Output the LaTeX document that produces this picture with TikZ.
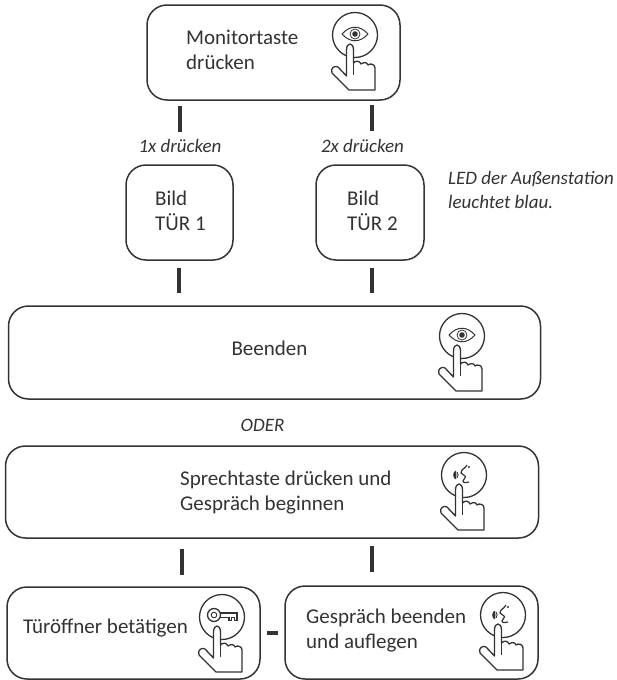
\documentclass[tikz,border=0pt]{standalone}
\usepackage{fontspec}
\setmainfont{Carlito}
\definecolor{dunkel}{gray}{0.2}
\tikzset{
    kasten/.style={draw=dunkel, line width=1.5pt, rounded corners=20pt},
    schrift/.style={font=\fontsize{21}{25}\selectfont, align=left, anchor=west, text=dunkel, inner sep=0pt},
    hinweis/.style={font=\fontsize{19}{24}\itshape\selectfont, align=left, text=dunkel, inner sep=0pt},
    strich/.style={dunkel, line width=3.6pt},
    handpic/.pic={
        \draw [dunkel, line width=1.3pt] (0, 0) circle [radius=22.5];
        \draw [dunkel, line width=1.3pt, fill=white, line join=round]
            (-8.5, 15) .. controls (-8.5, 7) and (-1.5, 7) .. (-1.5, 15)
            -- (-1.5, 28) .. controls (1, 25) and (5, 26) .. (6, 29)
            .. controls (9, 27) and (12, 27) .. (13, 30)
            .. controls (15, 28) and (20, 29) .. (20, 33)
            -- (20, 55) -- (-6, 55) -- (-23, 38)
            .. controls (-25, 33) and (-20, 30) .. (-17, 32)
            -- (-8.5, 41) -- cycle;
        \draw [dunkel, line width=1pt] (-1.5, 28) -- (-1.5, 40);
    },
    augepic/.pic={
        \draw [dunkel, line width=1pt, line join=miter] (-13, -1) .. controls (-5, -10) and (5, -10) .. (13, -1)
            .. controls (5, 8) and (-5, 8) .. (-13, -1) -- cycle;
        \draw [dunkel, line width=0.8pt] (0, -1) circle [radius=5];
        \fill [dunkel] (0, -1) circle [radius=2.8];
    },
    sprechpic/.pic={
        \draw [dunkel, line width=1.2pt] (3, -10) .. controls (1, -6) and (-3, -6) .. (-3, -2)
            -- (1, 1) .. controls (3, 2) and (-1, 4) .. (-1, 6) .. controls (-1, 8) and (3, 8) .. (5, 7);
        \fill [dunkel] (5, -8) circle [radius=1.1];
        \draw [dunkel, line width=0.9pt] (-8, -4) .. controls (-11, -2) and (-11, 2) .. (-8, 4);
        \fill [dunkel] (-9, 0) ellipse [x radius=1.5, y radius=3.5];
        \draw [dunkel, line width=0.9pt] (-7, -3) .. controls (-5.5, -1) and (-5.5, 1) .. (-7, 3);
    },
    schluesselpic/.pic={
        \draw [dunkel, line width=1.3pt] (-8, -2) circle [radius=6.5];
        \draw [dunkel, line width=0.9pt] (-8, -2) circle [radius=2.8];
        \draw [dunkel, line width=1.2pt] (-1.7, -4) -- (15, -4) -- (15, 3.5) -- (12.5, 3.5) -- (12.5, 0.5)
            -- (9.5, 0.5) -- (9.5, 3.5) -- (7, 3.5) -- (7, 0.5) -- (-1.7, 0.5);
    },
}

\begin{document}
\begin{tikzpicture}[x=1pt, y=-1pt]
    \useasboundingbox (0, 0) rectangle (617, 680);

    % Kaesten
    \node [kasten, minimum width=253pt, minimum height=95pt] (monitor) at (273.5, 52.5) {};
    \node [kasten, minimum width=107pt, minimum height=95pt] (tuer1) at (179.5, 212.5) {};
    \node [kasten, minimum width=108pt, minimum height=95pt] (tuer2) at (370, 212.5) {};
    \node [kasten, minimum width=532pt, minimum height=93pt] (beenden) at (274.5, 352.5) {};
    \node [kasten, minimum width=533pt, minimum height=92pt] (sprechen) at (272, 492) {};
    \node [kasten, minimum width=253pt, minimum height=92pt] (oeffner) at (133.5, 633) {};
    \node [kasten, minimum width=253pt, minimum height=93pt] (auflegen) at (411.5, 632.5) {};

    % Texte
    \node [schrift] (monitortext) at (186, 49.5) {Monitortaste\\drücken};
    \node [schrift] (tuer1text) at (155, 210.5) {Bild\\TÜR 1};
    \node [schrift] (tuer2text) at (347, 210.5) {Bild\\TÜR 2};
    \node [schrift, anchor=base] (beendentext) at (269.5, 355) {Beenden};
    \node [schrift] (sprechentext) at (180, 492.5) {Sprechtaste drücken und\\Gespräch beginnen};
    \node [schrift, anchor=base west] (oeffnertext) at (23, 633) {Türöffner betätigen};
    \node [schrift] (auflegentext) at (306, 630.5) {Gespräch beenden\\und auflegen};

    \node [hinweis, anchor=base] (einmal) at (180, 152) {1x drücken};
    \node [hinweis, anchor=base] (zweimal) at (362.5, 152) {2x drücken};
    \node [hinweis, anchor=west] (led) at (448, 190) {LED der Außenstation\\leuchtet blau.};
    \node [hinweis, anchor=base] (oder) at (262.5, 431) {ODER};

    % Symbole
    \pic at (355, 35) {handpic};
    \pic at (355, 35) {augepic};
    \pic at (462, 336) {handpic};
    \pic at (462, 336) {augepic};
    \pic at (464, 475) {handpic};
    \pic at (464, 475) {sprechpic};
    \pic at (222, 617) {handpic};
    \pic at (222, 617) {schluesselpic};
    \pic at (503, 615) {handpic};
    \pic at (503, 615) {sprechpic};

    % Striche
    \coordinate (a1) at (180, 106);
    \coordinate (a2) at (180, 132);
    \coordinate (b1) at (372, 105);
    \coordinate (b2) at (372, 131);
    \coordinate (c1) at (179, 268);
    \coordinate (c2) at (179, 293);
    \coordinate (d1) at (372, 268);
    \coordinate (d2) at (372, 293);
    \coordinate (e1) at (182, 549);
    \coordinate (e2) at (182, 575);
    \coordinate (f1) at (372, 546);
    \coordinate (f2) at (372, 572);
    \coordinate (g1) at (267, 633);
    \coordinate (g2) at (278, 633);
    \draw [strich] (a1) -- (a2);
    \draw [strich] (b1) -- (b2);
    \draw [strich] (c1) -- (c2);
    \draw [strich] (d1) -- (d2);
    \draw [strich] (e1) -- (e2);
    \draw [strich] (f1) -- (f2);
    \draw [strich] (g1) -- (g2);
\end{tikzpicture}
\end{document}
